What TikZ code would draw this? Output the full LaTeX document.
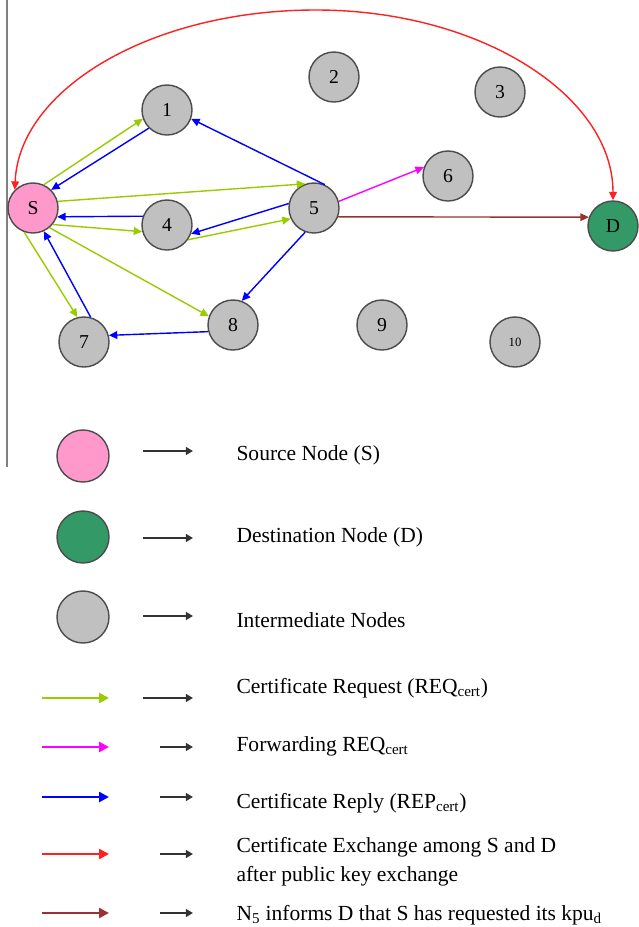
\documentclass[tikz,border=0pt]{standalone}
\usepackage{fontspec}
\setmainfont{Liberation Serif}
\usetikzlibrary{arrows.meta,calc,positioning}
\tikzset{every picture/.style={line width=0.75pt}}
\definecolor{nodegray}{HTML}{C0C0C0}
\definecolor{srcpink}{HTML}{FF99CC}
\definecolor{dstgreen}{HTML}{339966}
\definecolor{reqgreen}{HTML}{99CC00}
\definecolor{fwdpink}{HTML}{FF00FF}
\definecolor{repblue}{HTML}{0000FF}
\definecolor{exred}{HTML}{FF2020}
\definecolor{infbrown}{HTML}{993333}
\tikzset{
  host/.style={circle, draw=black!70, line width=1pt, fill=nodegray,
    minimum size=1.25cm, inner sep=0pt, font=\fontsize{14}{14}\selectfont},
  source/.style={host, fill=srcpink},
  dest/.style={host, fill=dstgreen},
  msg/.style={line width=1pt, -{Triangle[length=6pt,width=5.5pt]}},
  req/.style={msg, reqgreen},
  fwd/.style={msg, fwdpink},
  rep/.style={msg, repblue},
  exch/.style={msg, exred, {Triangle[length=6pt,width=5.5pt]}-{Triangle[length=6pt,width=5.5pt]}},
  inform/.style={msg, infbrown},
  keyline/.style={line width=1.8pt, -{Triangle[length=7pt,width=7pt]}},
  means/.style={line width=1.5pt, black!80, -{Triangle[length=5pt,width=5.5pt]}},
  keytext/.style={anchor=west, inner sep=0pt, align=left, font=\fontsize{15.3}{20.5}\selectfont}
}

\begin{document}
\begin{tikzpicture}[x=0.025cm, y=-0.025cm]
    \useasboundingbox (0,0) rectangle (638,927);

    % left frame line
    \draw[gray, line width=1pt] (7,0) -- (7,467);

    % network nodes
    \node[source] (S) at (33,208) {S};
    \node[host] (n1) at (167,110) {1};
    \node[host] (n2) at (334,77) {2};
    \node[host] (n3) at (500,92) {3};
    \node[host] (n4) at (167,225) {4};
    \node[host] (n5) at (314,208) {5};
    \node[host] (n6) at (448,176) {6};
    \node[host] (n7) at (84,342) {7};
    \node[host] (n8) at (233,325) {8};
    \node[host] (n9) at (382,325) {9};
    \node[host, font=\fontsize{9}{9}\selectfont] (n10) at (515,342) {10};
    \node[dest] (D) at (613,226) {D};

    % certificate request
    \draw[req] (S.65) -- (n1.200);
    \draw[req] (S.15) -- (n5.110);
    \draw[req] (S.-40) -- (n4.195);
    \draw[req] (n4.-35) -- (n5.205);
    \draw[req] (S.-50) -- (n8.160);
    \draw[req] (S.-110) -- (n7.105);

    % certificate reply
    \draw[rep] (n1.225) -- (S.45);
    \draw[rep] (n5.65) -- (n1.-20);
    \draw[rep] (n4.160) -- (S.-20);
    \draw[rep] (n5.170) -- (n4.-20);
    \draw[rep] (n5.-110) -- (n8.70);
    \draw[rep] (n8.195) -- (n7.15);
    \draw[rep] (n7.75) -- (S.-65);

    % forwarding and informing D
    \draw[fwd] (n5.15) -- (n6.160);
    \draw[inform] (n5.-20) -- (D.160);

    % certificate exchange S <-> D
    \coordinate (arcTop) at (316,10);
    \draw[exch] (S.135) .. controls ($(S.135)+(4,-100)$) and ($(arcTop)+(-166,0)$) .. (arcTop)
        .. controls ($(arcTop)+(164,0)$) and ($(D.north)+(0,-105)$) .. (D.north);

    % legend: nodes
    \node[source, minimum size=1.3cm] (kS) at (83,456) {};
    \node[dest, minimum size=1.3cm] (kD) at (83,537) {};
    \node[host, minimum size=1.3cm] (kI) at (83,617) {};
    \node[keytext] (tS) at (236,455) {Source Node (S)};
    \node[keytext] (tD) at (236,537) {Destination Node (D)};
    \node[keytext] (tI) at (236,620) {Intermediate Nodes};
    \draw[means] ($(tS.west)+(-93,-4)$) -- ($(tS.west)+(-43,-4)$);
    \draw[means] ($(tD.west)+(-93,1)$) -- ($(tD.west)+(-43,1)$);
    \draw[means] ($(tI.west)+(-93,-4)$) -- ($(tI.west)+(-43,-4)$);

    % legend: messages
    \coordinate (kReq) at (0,698);
    \coordinate (kFwd) at (0,747);
    \coordinate (kRep) at (0,797);
    \coordinate (kExc) at (0,854);
    \coordinate (kInf) at (0,913);
    \draw[req, keyline] ($(kReq)+(42,0)$) -- ($(kReq)+(109,0)$);
    \draw[fwd, keyline] ($(kFwd)+(42,0)$) -- ($(kFwd)+(109,0)$);
    \draw[rep, keyline] ($(kRep)+(42,0)$) -- ($(kRep)+(109,0)$);
    \draw[exch, keyline] ($(kExc)+(42,0)$) -- ($(kExc)+(109,0)$);
    \draw[inform, keyline] ($(kInf)+(42,0)$) -- ($(kInf)+(109,0)$);
    \draw[means] ($(kReq)+(143,0)$) -- ($(kReq)+(193,0)$);
    \draw[means] ($(kFwd)+(160,0)$) -- ($(kFwd)+(193,0)$);
    \draw[means] ($(kRep)+(160,0)$) -- ($(kRep)+(193,0)$);
    \draw[means] ($(kExc)+(160,0)$) -- ($(kExc)+(193,0)$);
    \draw[means] ($(kInf)+(160,0)$) -- ($(kInf)+(193,0)$);
    \node[keytext] (tReq) at (236,688) {Certificate Request (REQ\textsubscript{cert})};
    \node[keytext] (tFwd) at (236,746) {Forwarding REQ\textsubscript{cert}};
    \node[keytext] (tRep) at (236,803) {Certificate Reply (REP\textsubscript{cert})};
    \node[keytext] (tExc) at (236,862) {Certificate Exchange among S and D\\after public key exchange};
    \node[keytext] (tInf) at (236,915) {N\textsubscript{5} informs D that S has requested its kpu\textsubscript{d}};
\end{tikzpicture}
\end{document}
